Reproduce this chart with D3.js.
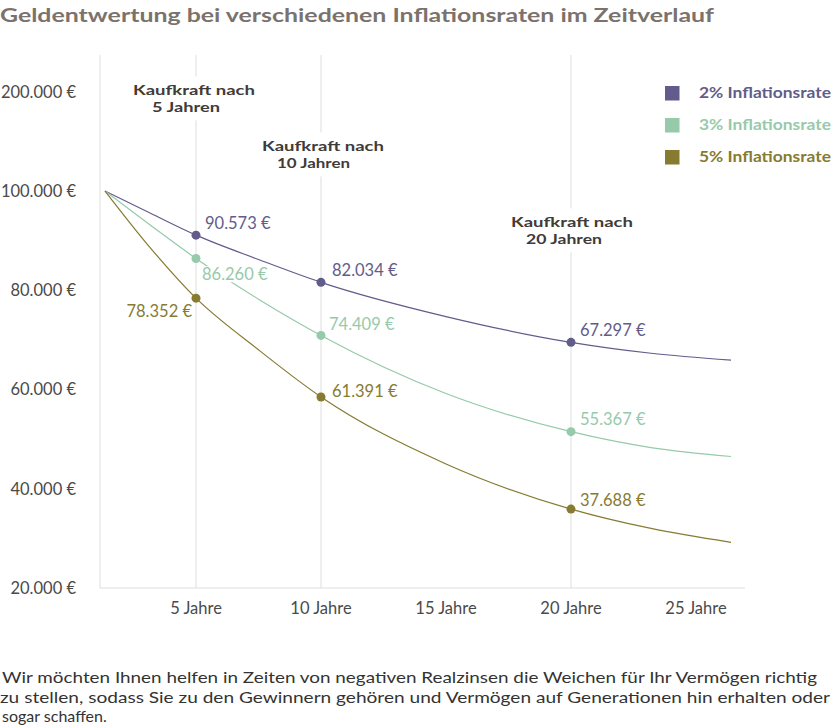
<!DOCTYPE html>
<html>
<head>
<meta charset="utf-8">
<script src="https://cdn.jsdelivr.net/npm/d3@7"></script>
<style>
  body { margin: 0; background: #fff; }
  svg { display: block; }
</style>
</head>
<body>
<div id="chart"></div>
<script>
// values
const years = [0, 2.5, 5, 7.5, 10, 15, 20, 23.2, 26.4];
const rate2 = [100000, 95500, 91100, 86200, 81600, 74700, 69500, 67300, 65900];
const rate3 = [100000, 93100, 86400, 78200, 70900, 59200, 51500, 48300, 46500];
const rate5 = [100000, 88500, 78400, 68000, 58500, 45000, 35900, 32000, 29200];

const seriesNames = ["2% Inflationsrate", "3% Inflationsrate", "5% Inflationsrate"];
const markYears = [5, 10, 20];
const labels2 = ["90.573 €", "82.034 €", "67.297 €"];
const labels3 = ["86.260 €", "74.409 €", "55.367 €"];
const labels5 = ["78.352 €", "61.391 €", "37.688 €"];

const yTicks = [20000, 40000, 60000, 80000, 100000, 120000];
const yTickLabels = ["20.000 €", "40.000 €", "60.000 €", "80.000 €", "100.000 €", "200.000 €"];
const xTicks = [5, 10, 15, 20, 25];
const xTickLabels = ["5 Jahre", "10 Jahre", "15 Jahre", "20 Jahre", "25 Jahre"];

const notes = [["Kaufkraft nach", "5 Jahren"], ["Kaufkraft nach", "10 Jahren"], ["Kaufkraft nach", "20 Jahren"]];

const footer = [
  "Wir möchten Ihnen helfen in Zeiten von negativen Realzinsen die Weichen für Ihr Vermögen richtig",
  "zu stellen, sodass Sie zu den Gewinnern gehören und Vermögen auf Generationen hin erhalten oder",
  "sogar schaffen."
];

// styling / layout
const colors = ["#615c8c", "#96caaa", "#867b31"];
const W = 833, H = 727;
const font = "Lato, 'Open Sans', sans-serif";

// label offsets from the point [dx, dy, anchor]
const labelOffsets = [
  [[9, -12, "start"], [11, -12, "start"], [9, -12, "start"]],
  [[6, 16, "start"], [8, -11, "start"], [9, -12, "start"]],
  [[-4, 13, "end"], [11, -6, "start"], [9, -9, "start"]]
];
// [line1 x, line2 x, line1 y, line2 width]
const notePos = [[133, 152, 90.5, 68], [262, 277, 146.5, 73], [511, 526, 222.5, 76]];

const svg = d3.select("#chart").append("svg")
    .attr("width", W)
    .attr("height", H);

// scales
const x = d3.scaleLinear().domain([0, 5, 25]).range([105, 196, 696]);
const y = d3.scaleLinear().domain([20000, 100000]).range([588, 191]);

// title
svg.append("text")
    .attr("x", 0)
    .attr("y", 22)
    .attr("font-family", font)
    .attr("font-weight", "bold")
    .attr("font-size", 19)
    .attr("fill", "#7b726d")
    .attr("textLength", 714)
    .attr("lengthAdjust", "spacingAndGlyphs")
    .text("Geldentwertung bei verschiedenen Inflationsraten im Zeitverlauf");

// axis lines + grid
const gridColor = "#dedede";
svg.append("line")
    .attr("x1", 100).attr("x2", 100)
    .attr("y1", 55).attr("y2", y(20000))
    .attr("stroke", gridColor);
svg.append("line")
    .attr("x1", 100).attr("x2", 745)
    .attr("y1", y(20000)).attr("y2", y(20000))
    .attr("stroke", gridColor);
svg.selectAll(".grid").data(markYears).enter().append("line")
    .attr("class", "grid")
    .attr("x1", d => x(d)).attr("x2", d => x(d))
    .attr("y1", 55).attr("y2", y(20000))
    .attr("stroke", gridColor);

// y tick labels
svg.selectAll(".ytick").data(yTicks).enter().append("text")
    .attr("class", "ytick")
    .attr("x", 76)
    .attr("y", d => y(d))
    .attr("dy", "0.35em")
    .attr("text-anchor", "end")
    .attr("font-family", font)
    .attr("font-size", 16.5)
    .attr("fill", "#4a4a4a")
    .text((d, i) => yTickLabels[i]);

// x tick labels
svg.selectAll(".xtick").data(xTicks).enter().append("text")
    .attr("class", "xtick")
    .attr("x", d => x(d))
    .attr("y", 608)
    .attr("dy", "0.35em")
    .attr("text-anchor", "middle")
    .attr("font-family", font)
    .attr("font-size", 16.5)
    .attr("fill", "#4a4a4a")
    .text((d, i) => xTickLabels[i]);

// notes with white backing
notes.forEach(function(n, i) {
    let g = svg.append("g");
    let bg = g.append("rect").attr("fill", "#fff");
    let attrs = function(t) {
        t.attr("font-family", font)
            .attr("font-weight", "bold")
            .attr("font-size", 14)
            .attr("fill", "#403b38")
            .attr("dy", "0.35em")
            .attr("lengthAdjust", "spacingAndGlyphs");
    };
    let t1 = g.append("text").call(attrs)
        .attr("x", notePos[i][0]).attr("y", notePos[i][2])
        .attr("textLength", 122)
        .text(n[0]);
    let t2 = g.append("text").call(attrs)
        .attr("x", notePos[i][1]).attr("y", notePos[i][2] + 17)
        .attr("textLength", notePos[i][3])
        .text(n[1]);
    let b1 = t1.node().getBBox(), b2 = t2.node().getBBox();
    bg.attr("x", b1.x - 4).attr("y", b1.y - 5)
      .attr("width", b1.width + 8).attr("height", b2.y + b2.height - b1.y + 10);
});

// lines
const series = [rate2, rate3, rate5];
const allLabels = [labels2, labels3, labels5];
const line = d3.line()
    .x((d, i) => x(years[i]))
    .y(d => y(d))
    .curve(d3.curveMonotoneX);

svg.selectAll(".series").data(series).enter().append("path")
    .attr("class", "series")
    .attr("d", d => line(d))
    .attr("fill", "none")
    .attr("stroke", (d, i) => colors[i])
    .attr("stroke-width", 1.2);

// value labels (white backing cuts the line like the original)
series.forEach(function(s, si) {
    markYears.forEach(function(yr, k) {
        let v = s[years.indexOf(yr)];
        let off = labelOffsets[si][k];
        let g = svg.append("g");
        let bg = g.append("rect").attr("fill", "#fff");
        let t = g.append("text")
            .attr("x", x(yr) + off[0])
            .attr("y", y(v) + off[1])
            .attr("dy", "0.35em")
            .attr("text-anchor", off[2])
            .attr("font-family", font)
            .attr("font-size", 16.5)
            .attr("fill", colors[si])
            .text(allLabels[si][k]);
        let b = t.node().getBBox();
        bg.attr("x", b.x - 2).attr("y", b.y + 2).attr("width", b.width + 4).attr("height", b.height - 4);
    });
});

// dots
series.forEach(function(s, si) {
    svg.selectAll(".dot" + si).data(markYears).enter().append("circle")
        .attr("class", "dot" + si)
        .attr("cx", d => x(d))
        .attr("cy", d => y(s[years.indexOf(d)]))
        .attr("r", 4.5)
        .attr("fill", colors[si]);
});

// legend
const legend = svg.selectAll(".legend").data(seriesNames).enter().append("g")
    .attr("class", "legend")
    .attr("transform", (d, i) => "translate(665," + (93 + i * 32) + ")");
legend.append("rect")
    .attr("x", 0).attr("y", -7)
    .attr("width", 14.5).attr("height", 14.5)
    .attr("fill", (d, i) => colors[i]);
legend.append("text")
    .attr("x", 34)
    .attr("dy", "0.35em")
    .attr("font-family", font)
    .attr("font-weight", "bold")
    .attr("font-size", 15)
    .attr("fill", (d, i) => colors[i])
    .attr("textLength", 132)
    .attr("lengthAdjust", "spacingAndGlyphs")
    .text(d => d);

// footer text
const footLen = [815, 830, null];
footer.forEach(function(f, i) {
    let t = svg.append("text")
        .attr("x", i == 1 ? 0 : 2)
        .attr("y", 683 + i * 19.5)
        .attr("font-family", font)
        .attr("font-size", 16)
        .attr("fill", "#333")
        .text(f);
    if (footLen[i]) t.attr("textLength", footLen[i]).attr("lengthAdjust", "spacingAndGlyphs");
});
</script>
</body>
</html>
